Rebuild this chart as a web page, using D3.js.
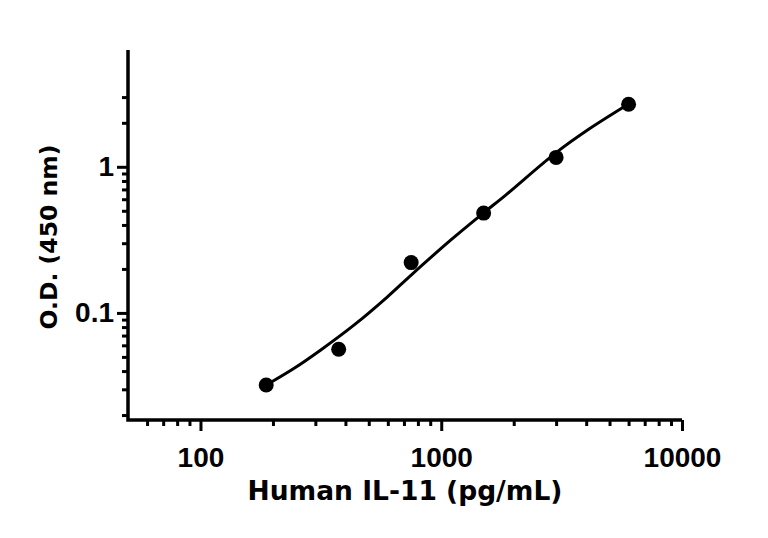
<!DOCTYPE html>
<html>
<head>
<meta charset="utf-8">
<script src="https://cdn.jsdelivr.net/npm/d3@7"></script>
<style>
  body { margin: 0; background: #fff; }
  text { font-weight: bold; fill: #000; }
</style>
</head>
<body>
<div id="chart"></div>
<script>
// measured points (concentration pg/mL, OD 450)
var conc = [187.5, 375, 750, 1500, 3000, 6000];
var od = [0.0321, 0.0564, 0.221, 0.482, 1.16, 2.68];

// fitted curve
var fitX = [187.5, 245, 316, 435, 598, 748, 1097, 1495, 1858, 3000, 4125, 6000];
var fitY = [0.0321, 0.0418, 0.0558, 0.0828, 0.129, 0.181, 0.316, 0.482, 0.643, 1.25, 1.82, 2.69];

var xMajor = [100, 1000, 10000];
var xMinor = [60, 70, 80, 90, 200, 300, 400, 500, 600, 700, 800, 900,
              2000, 3000, 4000, 5000, 6000, 7000, 8000, 9000];
var yMajor = [0.1, 1];
var yMinor = [0.02, 0.03, 0.04, 0.05, 0.06, 0.07, 0.08, 0.09,
              0.2, 0.3, 0.4, 0.5, 0.6, 0.7, 0.8, 0.9, 2, 3];

var W = 768, H = 538;
var svg = d3.select("#chart").append("svg").attr("width", W).attr("height", H);

var x = d3.scaleLog().domain([50, 10000]).range([128, 682]);
var y = d3.scaleLog().domain([0.0185, 6.3]).range([420, 50]);

// x axis
svg.append("g").attr("transform", "translate(0,420)")
   .call(d3.axisBottom(x).tickValues(xMajor).tickSize(11).tickPadding(16).tickFormat(d3.format("d")));
svg.append("g").attr("transform", "translate(0,420)")
   .call(d3.axisBottom(x).tickValues(xMinor).tickSize(6).tickFormat(""));

// y axis
svg.append("g").attr("transform", "translate(128,0)")
   .call(d3.axisLeft(y).tickValues(yMajor).tickSize(11).tickPadding(3).tickFormat(function(d){ return d < 1 ? "0.1" : "1"; }));
svg.append("g").attr("transform", "translate(128,0)")
   .call(d3.axisLeft(y).tickValues(yMinor).tickSize(6).tickFormat(""));

svg.selectAll(".domain").remove();
svg.selectAll(".tick line").attr("stroke", "#000").attr("stroke-width", 3);
svg.selectAll(".tick text").attr("font-size", 28).attr("font-family", "Liberation Sans, Arial, sans-serif");

// axis lines as L shape
svg.append("path")
   .attr("d", "M128,50V420H682")
   .attr("fill", "none").attr("stroke", "#000").attr("stroke-width", 3.5);

// fitted curve
var line = d3.line()
   .x(function(d, i){ return x(fitX[i]); })
   .y(function(d, i){ return y(fitY[i]); })
   .curve(d3.curveCatmullRom.alpha(0.5));
svg.append("path").datum(fitX)
   .attr("d", line)
   .attr("fill", "none").attr("stroke", "#000").attr("stroke-width", 3);

// points
svg.selectAll("circle.pt").data(conc).enter().append("circle")
   .attr("class", "pt")
   .attr("cx", function(d){ return x(d); })
   .attr("cy", function(d, i){ return y(od[i]); })
   .attr("r", 7.5)
   .attr("fill", "#000");

// titles
svg.append("text")
   .attr("x", 405).attr("y", 500)
   .attr("text-anchor", "middle").attr("font-size", 26.5)
   .attr("font-family", "DejaVu Sans, sans-serif")
   .text("Human IL-11 (pg/mL)");
svg.append("text")
   .attr("transform", "translate(57,237) rotate(-90)")
   .attr("text-anchor", "middle").attr("font-size", 23.5)
   .attr("font-family", "DejaVu Sans, sans-serif")
   .text("O.D. (450 nm)");
</script>
</body>
</html>
